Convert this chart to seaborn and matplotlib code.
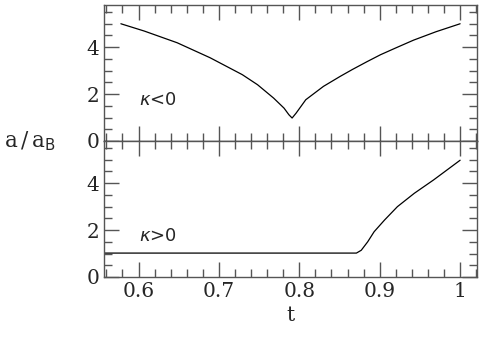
import numpy as np
import pandas as pd
import matplotlib
matplotlib.use("Agg")
import matplotlib.pyplot as plt
from matplotlib.ticker import MultipleLocator
import seaborn as sns

# kappa < 0 branch (top panel)
t_neg = [0.578, 0.607, 0.648, 0.689, 0.729, 0.748, 0.768, 0.781, 0.787, 0.791,
         0.796, 0.808, 0.830, 0.851, 0.866, 0.884, 0.901, 0.920, 0.942, 0.970, 1.000]
a_neg = [5.00, 4.69, 4.19, 3.55, 2.83, 2.40, 1.83, 1.40, 1.12, 0.98,
         1.19, 1.76, 2.33, 2.76, 3.05, 3.38, 3.68, 3.97, 4.30, 4.66, 5.00]

# kappa > 0 branch (bottom panel)
t_pos = [0.550, 0.871, 0.877, 0.885, 0.893, 0.906, 0.922, 0.943, 0.967, 1.000]
a_pos = [1.02, 1.02, 1.14, 1.50, 1.93, 2.43, 3.00, 3.57, 4.14, 4.98]

x_ticks = [0.6, 0.7, 0.8, 0.9, 1.0]
x_ticklabels = ["0.6", "0.7", "0.8", "0.9", "1"]
y_ticks = [0, 2, 4]
panel_labels = [r"$\kappa$<0", r"$\kappa$>0"]

sns.set_style("ticks")
plt.rcParams["font.family"] = ["DejaVu Serif"]
plt.rcParams["mathtext.fontset"] = "dejavusans"

fig = plt.figure(figsize=(4.91, 3.42), dpi=100)
left, right = 104 / 491, 477 / 491
y_top, y_mid, y_bot = 1 - 5 / 342, 1 - 141 / 342, 1 - 277 / 342
ax1 = fig.add_axes([left, y_mid, right - left, y_top - y_mid])
ax2 = fig.add_axes([left, y_bot, right - left, y_mid - y_bot])

df_neg = pd.DataFrame({"t": t_neg, "a": a_neg})
df_pos = pd.DataFrame({"t": t_pos, "a": a_pos})
sns.lineplot(data=df_neg, x="t", y="a", ax=ax1, color="black", lw=0.9)
sns.lineplot(data=df_pos, x="t", y="a", ax=ax2, color="black", lw=0.9)

for ax, lab in zip([ax1, ax2], panel_labels):
    ax.set_xlim(0.557, 1.021)
    ax.set_ylim(0, 5.8)
    ax.set_xticks(x_ticks)
    ax.set_yticks(y_ticks)
    ax.xaxis.set_minor_locator(MultipleLocator(0.02))
    ax.yaxis.set_minor_locator(MultipleLocator(0.5))
    ax.tick_params(which="both", direction="in", top=True, right=True,
                   color="#555555", width=1.0, labelsize=14.5)
    ax.tick_params(which="major", length=10.5)
    ax.tick_params(which="minor", length=5.5)
    for s in ax.spines.values():
        s.set_linewidth(1.0)
        s.set_color("#555555")
    ax.set_xlabel("")
    ax.set_ylabel("")
    ax.text(0.6, 1.75, lab, fontsize=13, va="center", ha="left",
            family="DejaVu Sans")

ax1.tick_params(labelbottom=False)
ax2.set_xticklabels(x_ticklabels)
ax2.set_xlabel("t", fontsize=14.5, labelpad=4)
ax1.spines["bottom"].set_color("black")

fig.text(4 / 491, 1 - 141 / 342, r"a$\,$/$\,$a$_{\mathrm{B}}$", fontsize=15.5,
         va="center", ha="left")

fig.savefig("out.png", dpi=100)
